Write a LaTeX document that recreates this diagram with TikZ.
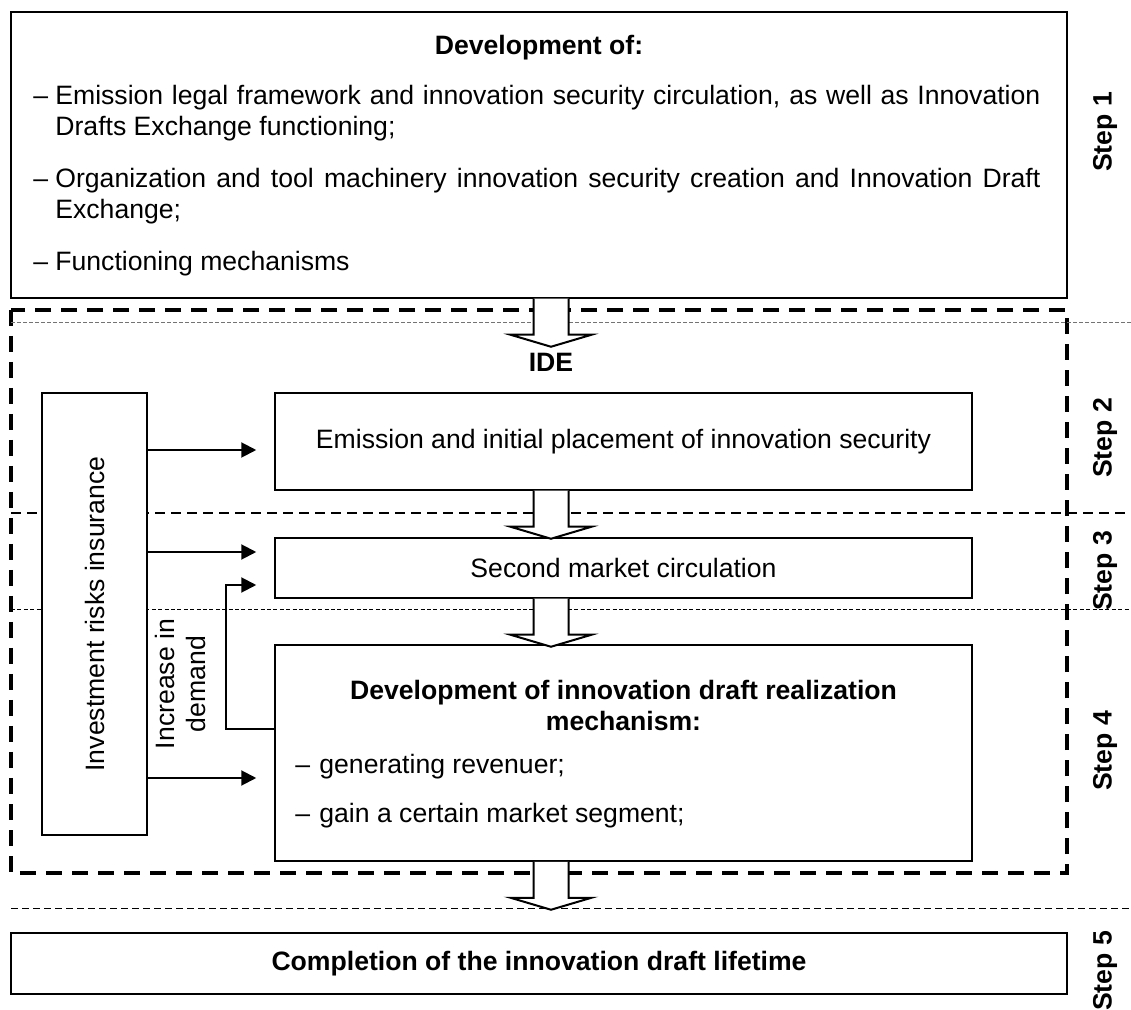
\documentclass[tikz,border=0pt]{standalone}
\usepackage{fontspec}
\setmainfont{Liberation Sans}
\usetikzlibrary{arrows.meta,calc}

\begin{document}
\fontsize{13.3}{15.5}\selectfont
\begin{tikzpicture}[
      x=0.5pt,y=-0.5pt,
      >={Triangle[length=7.5pt,width=7.5pt]},
      box/.style={draw=black,line width=0.75pt,fill=white,inner sep=0pt},
      blk/.style={draw=black,line width=1pt,fill=white,line join=miter},
      arr/.style={draw=black,line width=1pt,->,shorten >=9pt},
      frame/.style={draw=black,line width=1.8pt,dash pattern=on 8pt off 5pt},
      sepgray/.style={draw=black!55,line width=0.4pt,dash pattern=on 1.8pt off 1.2pt},
      sepmid/.style={draw=black,line width=0.7pt,dash pattern=on 5pt off 3pt},
      septhin/.style={draw=black,line width=0.4pt,dash pattern=on 2pt off 1.2pt},
      seplow/.style={draw=black,line width=0.5pt,dash pattern=on 3.5pt off 2pt},
      steplbl/.style={font=\bfseries,rotate=90},
      item/.style={anchor=base west,inner sep=0pt}
    ]
    \useasboundingbox (0,0) rectangle (1131,1010);
    % step separators and IDE frame
    \draw[frame] (11,310) rectangle (1067,873);
    \draw[sepgray] (11,322) -- (1131,322);
    \draw[sepmid] (11,513) -- (1131,513);
    \draw[septhin] (11,609) -- (1131,609);
    \draw[seplow] (11,908) -- (1131,908);
    % boxes
    \node[box,minimum width=528pt,minimum height=143pt] (top) at (539,155) {};
    \node[box,minimum width=52.5pt,minimum height=221pt] (ins) at (94.5,614) {};
    \node[box,minimum width=348.5pt,minimum height=48.5pt] (emis) at (623.5,441.5)
      {Emission and initial placement of innovation security};
    \node[box,minimum width=348.5pt,minimum height=30pt] (sec) at (623.5,568)
      {Second market circulation};
    \node[box,minimum width=348.5pt,minimum height=108pt] (dev) at (623.5,753) {};
    \node[box,minimum width=528pt,minimum height=30.5pt,font=\bfseries] (end) at (539,963.5)
      {Completion of the innovation draft lifetime};
    \node[font=\bfseries] (ide) at (551,362) {IDE};
    % hollow arrows between the stages
    \foreach \a in {top,emis,sec,dev}
      \draw[blk] ($(\a.south -| ide)+(-17.5,0)$) -- ++(0,36) -- ++(-23,0)
        -- ++(40.5,12) -- ++(40.5,-12) -- ++(-23,0) -- ++(0,-36);
    % step 1 texts
    \node[font=\bfseries] (devof) at (539,48) {Development of:};
    \node[item,text width=503.5pt,align=justify] (lst) at (33,105) {%
      \setlength{\parskip}{10.5pt}%
      \hangindent=11pt\hangafter=1\noindent\makebox[11pt][l]{--}Emission legal framework and innovation security circulation, as well as Innovation Drafts Exchange functioning;\par
      \hangindent=11pt\hangafter=1\noindent\makebox[11pt][l]{--}Organization and tool machinery innovation security creation and Innovation Draft Exchange;\par
      \hangindent=11pt\hangafter=1\noindent\makebox[11pt][l]{--}Functioning mechanisms\par};
    % step 4 texts
    \node[font=\bfseries,align=center] (mech) at (623.5,705)
      {Development of innovation draft realization\\mechanism:};
    \node[item] (rev) at (295,774) {\makebox[12pt][l]{--}generating revenuer;};
    \node[item] (seg) at (295,822) {\makebox[12pt][l]{--}gain a certain market segment;};
    % insurance and feedback
    \node[rotate=90] (inslbl) at (ins.center) {Investment risks insurance};
    \node[rotate=90,align=center] (dem) at (180,684) {Increase in\\demand};
    \draw[arr] (ins.east |- 0,450) -- (emis.west |- 0,450);
    \draw[arr] (ins.east |- 0,552) -- (sec.west |- 0,552);
    \draw[arr] (ins.east |- 0,778) -- (dev.west |- 0,778);
    \draw[arr] (dev.west |- 0,729) -- ++(-48,0) |- (sec.west |- 0,585);
    % step labels
    \node[steplbl] (s1) at (1105,132) {Step 1};
    \node[steplbl] (s2) at (1105,438) {Step 2};
    \node[steplbl] (s3) at (1105,571) {Step 3};
    \node[steplbl] (s4) at (1105,751) {Step 4};
    \node[steplbl] (s5) at (1105,971) {Step 5};
  \end{tikzpicture}
\end{document}
